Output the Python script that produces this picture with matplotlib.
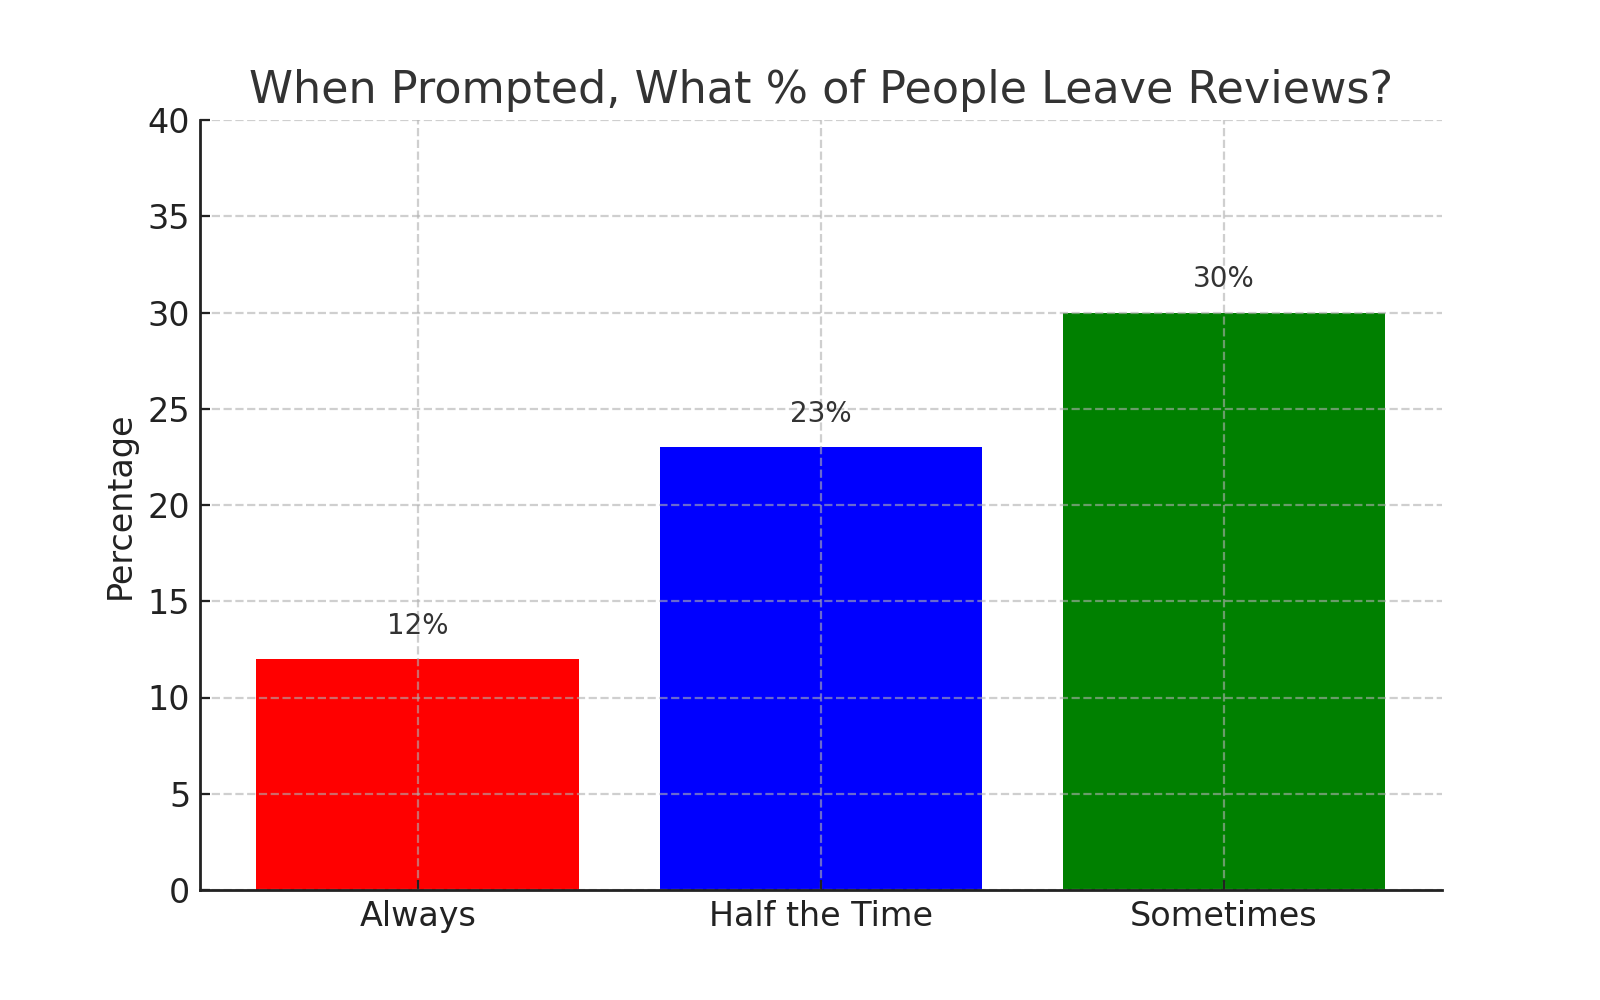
import matplotlib
matplotlib.use('Agg')
import matplotlib.pyplot as plt

# Dados do gráfico
categories = ['Always', 'Half the Time', 'Sometimes']
percentages = [12, 23, 30]
bar_colors = ['red', 'blue', 'green']
y_ticks = [0, 5, 10, 15, 20, 25, 30, 35, 40]

fig = plt.figure(figsize=(8, 5), dpi=200)
ax = fig.add_axes([0.125, 0.110, 0.776, 0.770])

bars = ax.bar(categories, percentages, color=bar_colors, width=0.8)

# Rótulos acima das barras
for bar, value in zip(bars, percentages):
    ax.text(bar.get_x() + bar.get_width() / 2, value + 1, f'{value}%',
            ha='center', va='bottom', fontsize=10, color='#333333')

ax.set_ylim(0, 40)
ax.set_yticks(y_ticks)
ax.set_title('When Prompted, What % of People Leave Reviews?', fontsize=16, color='#333333')
ax.set_ylabel('Percentage', fontsize=12, color='#222222')

ax.tick_params(axis='both', direction='in', labelsize=12, labelcolor='#222222', color='#222222')
ax.grid(True, linestyle='--', color='#b0b0b0', alpha=0.6, linewidth=0.8)

for side in ['top', 'right']:
    ax.spines[side].set_visible(False)
for side in ['left', 'bottom']:
    ax.spines[side].set_color('#222222')
    ax.spines[side].set_linewidth(1.0)

plt.savefig('out.png', dpi=200)
plt.close()
